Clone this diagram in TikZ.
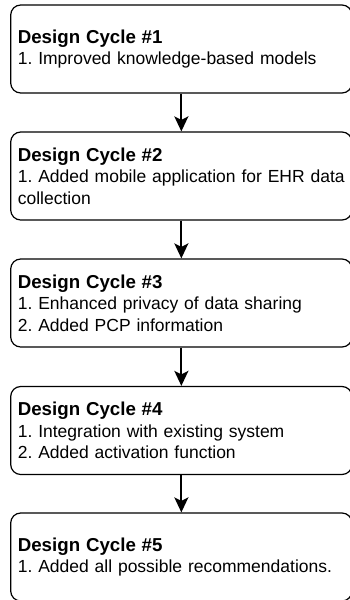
\documentclass[tikz,border=0pt]{standalone}
\usepackage{fontspec}
\setmainfont{Liberation Sans}
\usetikzlibrary{arrows.meta}
\frenchspacing
\hyphenpenalty=10000
\exhyphenpenalty=10000
\hbadness=10000
\hfuzz=20pt
\newcommand{\cyctitle}[1]{{\fontsize{18.7pt}{21.6pt}\selectfont\bfseries #1}}
\begin{document}
\begin{tikzpicture}[x=1pt,y=-1pt,
  cyclebox/.style={draw=black, line width=1.2pt, rounded corners=10pt,
    minimum width=341.3pt, minimum height=88pt, text width=327pt,
    inner xsep=7.15pt, inner ysep=0pt, align=left,
    font=\fontsize{17.5pt}{21.6pt}\selectfont},
  flow/.style={line width=2pt, -{Stealth[length=15pt,width=14pt,inset=3.5pt]}}]
\useasboundingbox (0,0) rectangle (349,600);
\node[cyclebox] (c1) at (181.35,49) {\cyctitle{Design Cycle \#1}\\1. Improved knowledge-based models};
\node[cyclebox] (c2) at (181.35,176) {\cyctitle{Design Cycle \#2}\\\mbox{1. Added mobile application for EHR data}\\collection};
\node[cyclebox] (c3) at (181.35,303) {\cyctitle{Design Cycle \#3}\\1. Enhanced privacy of data sharing\\2. Added PCP information};
\node[cyclebox] (c4) at (181.35,430.5) {\cyctitle{Design Cycle \#4}\\1. Integration with existing system\\2. Added activation function};
\node[cyclebox] (c5) at (181.35,557) {\cyctitle{Design Cycle \#5}\\1. Added all possible recommendations.};
\draw[flow] (c1) -- (c2);
\draw[flow] (c2) -- (c3);
\draw[flow] (c3) -- (c4);
\draw[flow] (c4) -- (c5);
\end{tikzpicture}
\end{document}
